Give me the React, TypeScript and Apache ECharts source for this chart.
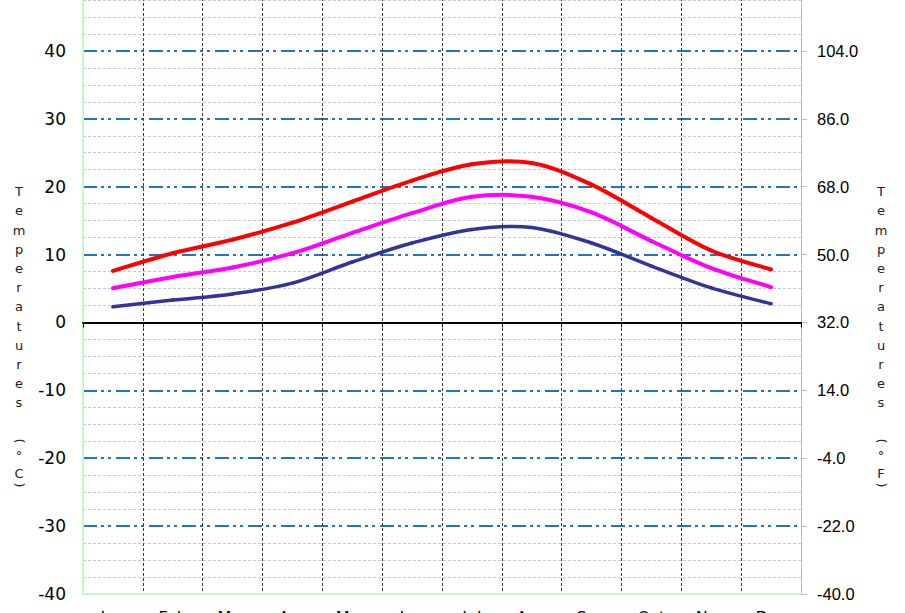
import React, { useEffect, useRef } from "react";
import * as echarts from "echarts";

const months = ["Jan", "Feb", "Mar", "Apr", "May", "Jun", "Jul", "Aug", "Sep", "Oct", "Nov", "Dec"];
const maxTemps = [7.6, 10.2, 12.2, 14.7, 17.8, 20.9, 23.3, 23.5, 20.3, 15.4, 10.6, 7.8];
const meanTemps = [5.05, 6.7, 8.1, 10.2, 13.2, 16.1, 18.5, 18.5, 16.2, 12.0, 8.0, 5.2];
const minTemps = [2.3, 3.3, 4.2, 5.8, 8.9, 11.7, 13.7, 14.0, 11.7, 8.3, 5.1, 2.75];
const celsiusRange = [-40, 50];
const fahrenheitRange = [-40, 122];
const titleWord = "Temperatures";

const OFFSET = 37;

function axisTitle(x: number, unit: string) {
  const base = { fontFamily: "DejaVu Sans", fontSize: 13, fill: "#222", align: "center" };
  return [
    {
      type: "text",
      x,
      y: 182 + OFFSET,
      style: { ...base, text: titleWord.split("").join("\n"), verticalAlign: "top", lineHeight: 19.2 },
    },
    { type: "text", x, y: 441 + OFFSET, rotation: -Math.PI / 2, style: { ...base, text: "(", verticalAlign: "middle" } },
    { type: "text", x, y: 455 + OFFSET, style: { ...base, text: "°", verticalAlign: "middle" } },
    { type: "text", x, y: 473 + OFFSET, style: { ...base, text: unit, verticalAlign: "middle" } },
    { type: "text", x, y: 485 + OFFSET, rotation: -Math.PI / 2, style: { ...base, text: ")", verticalAlign: "middle" } },
  ];
}

// Smoothed line (Catmull-Rom, like a spreadsheet "smoothed line") drawn segment by segment
function smoothSeries(name: string, values: number[], color: string, width: number) {
  const n = values.length;
  return {
    name,
    type: "custom",
    xAxisIndex: 0,
    yAxisIndex: 0,
    data: values.map((v, i) => [i, v]),
    encode: { x: 0, y: 1 },
    z: 5,
    renderItem: (params: any, api: any) => {
      const i = params.dataIndex;
      if (i >= n - 1) return null;
      const pt = (k: number) => {
        const kk = Math.max(0, Math.min(n - 1, k));
        return api.coord([kk, values[kk]]);
      };
      const p0 = pt(i - 1);
      const p1 = pt(i);
      const p2 = pt(i + 1);
      const p3 = pt(i + 2);
      return {
        type: "bezierCurve",
        shape: {
          x1: p1[0],
          y1: p1[1],
          x2: p2[0],
          y2: p2[1],
          cpx1: p1[0] + (p2[0] - p0[0]) / 6,
          cpy1: p1[1] + (p2[1] - p0[1]) / 6,
          cpx2: p2[0] - (p3[0] - p1[0]) / 6,
          cpy2: p2[1] - (p3[1] - p1[1]) / 6,
        },
        style: { stroke: color, lineWidth: width, fill: "none", lineCap: "round" },
      };
    },
  };
}

export default function App() {
  const ref = useRef<HTMLDivElement>(null);
  useEffect(() => {
    const chart = echarts.init(ref.current!, null, { renderer: "svg" });
    chart.setOption({
      animation: false,
      backgroundColor: "#ffffff",
      grid: { left: 83, right: 104, top: 20, bottom: 49, containLabel: false },
      xAxis: [
        {
          type: "category",
          data: months,
          position: "bottom",
          boundaryGap: true,
          axisLine: { show: true, onZero: false, lineStyle: { color: "#c8f5c8", width: 2 } },
          axisTick: { show: false },
          axisLabel: { interval: 0, margin: 15, fontFamily: "DejaVu Sans", fontSize: 16, color: "#000" },
          splitLine: {
            show: true,
            interval: 0,
            showMinLine: false,
            showMaxLine: false,
            lineStyle: { color: "#3a3a3a", type: [3, 2], width: 1 },
          },
        },
        {
          type: "category",
          data: months,
          position: "bottom",
          boundaryGap: true,
          axisLine: { show: true, onZero: true, onZeroAxisIndex: 0, lineStyle: { color: "#000", width: 2 } },
          axisTick: { show: true, interval: 0, length: 5, lineStyle: { color: "#000", width: 1 } },
          axisLabel: { show: false },
          splitLine: { show: false },
          z: 6,
        },
      ],
      yAxis: [
        {
          type: "value",
          min: celsiusRange[0],
          max: celsiusRange[1],
          interval: 10,
          position: "left",
          axisLine: { show: true, onZero: false, lineStyle: { color: "#c8f5c8", width: 2 } },
          axisTick: { show: false },
          axisLabel: { margin: 17, fontFamily: "DejaVu Sans", fontSize: 17, color: "#000", showMaxLabel: false },
          splitLine: {
            show: true,
            showMinLine: false,
            lineStyle: { color: "#2272c8", width: 2, type: [14, 4, 3, 4, 3, 5] },
          },
          minorTick: { show: false, splitNumber: 4 },
          minorSplitLine: { show: true, lineStyle: { color: "#b8cce4", width: 1, type: [3, 2] } },
        },
        {
          type: "value",
          min: fahrenheitRange[0],
          max: fahrenheitRange[1],
          alignTicks: true,
          position: "right",
          axisLine: { show: true, onZero: false, lineStyle: { color: "#9ccc9c", width: 1 } },
          axisTick: { show: true, length: 6, lineStyle: { color: "#bbbbbb" } },
          axisLabel: {
            margin: 16,
            fontFamily: "Liberation Sans",
            fontSize: 16.5,
            color: "#000",
            showMaxLabel: false,
            formatter: (v: number) => v.toFixed(1),
          },
          splitLine: { show: false },
        },
      ],
      graphic: [...axisTitle(19, "C"), ...axisTitle(881, "F")],
      series: [
        smoothSeries("Max", maxTemps, "#ff0000", 4),
        smoothSeries("Mean", meanTemps, "#ff00ff", 4),
        smoothSeries("Min", minTemps, "#333399", 3.5),
      ],
    });
    return () => chart.dispose();
  }, []);
  return (
    <div
      style={{
        position: "fixed",
        left: 0,
        top: 0,
        width: 905,
        height: 613,
        overflow: "hidden",
        background: "#fff",
      }}
    >
      <div ref={ref} style={{ position: "absolute", left: 0, top: -OFFSET, width: 905, height: 680 }} />
    </div>
  );
}
